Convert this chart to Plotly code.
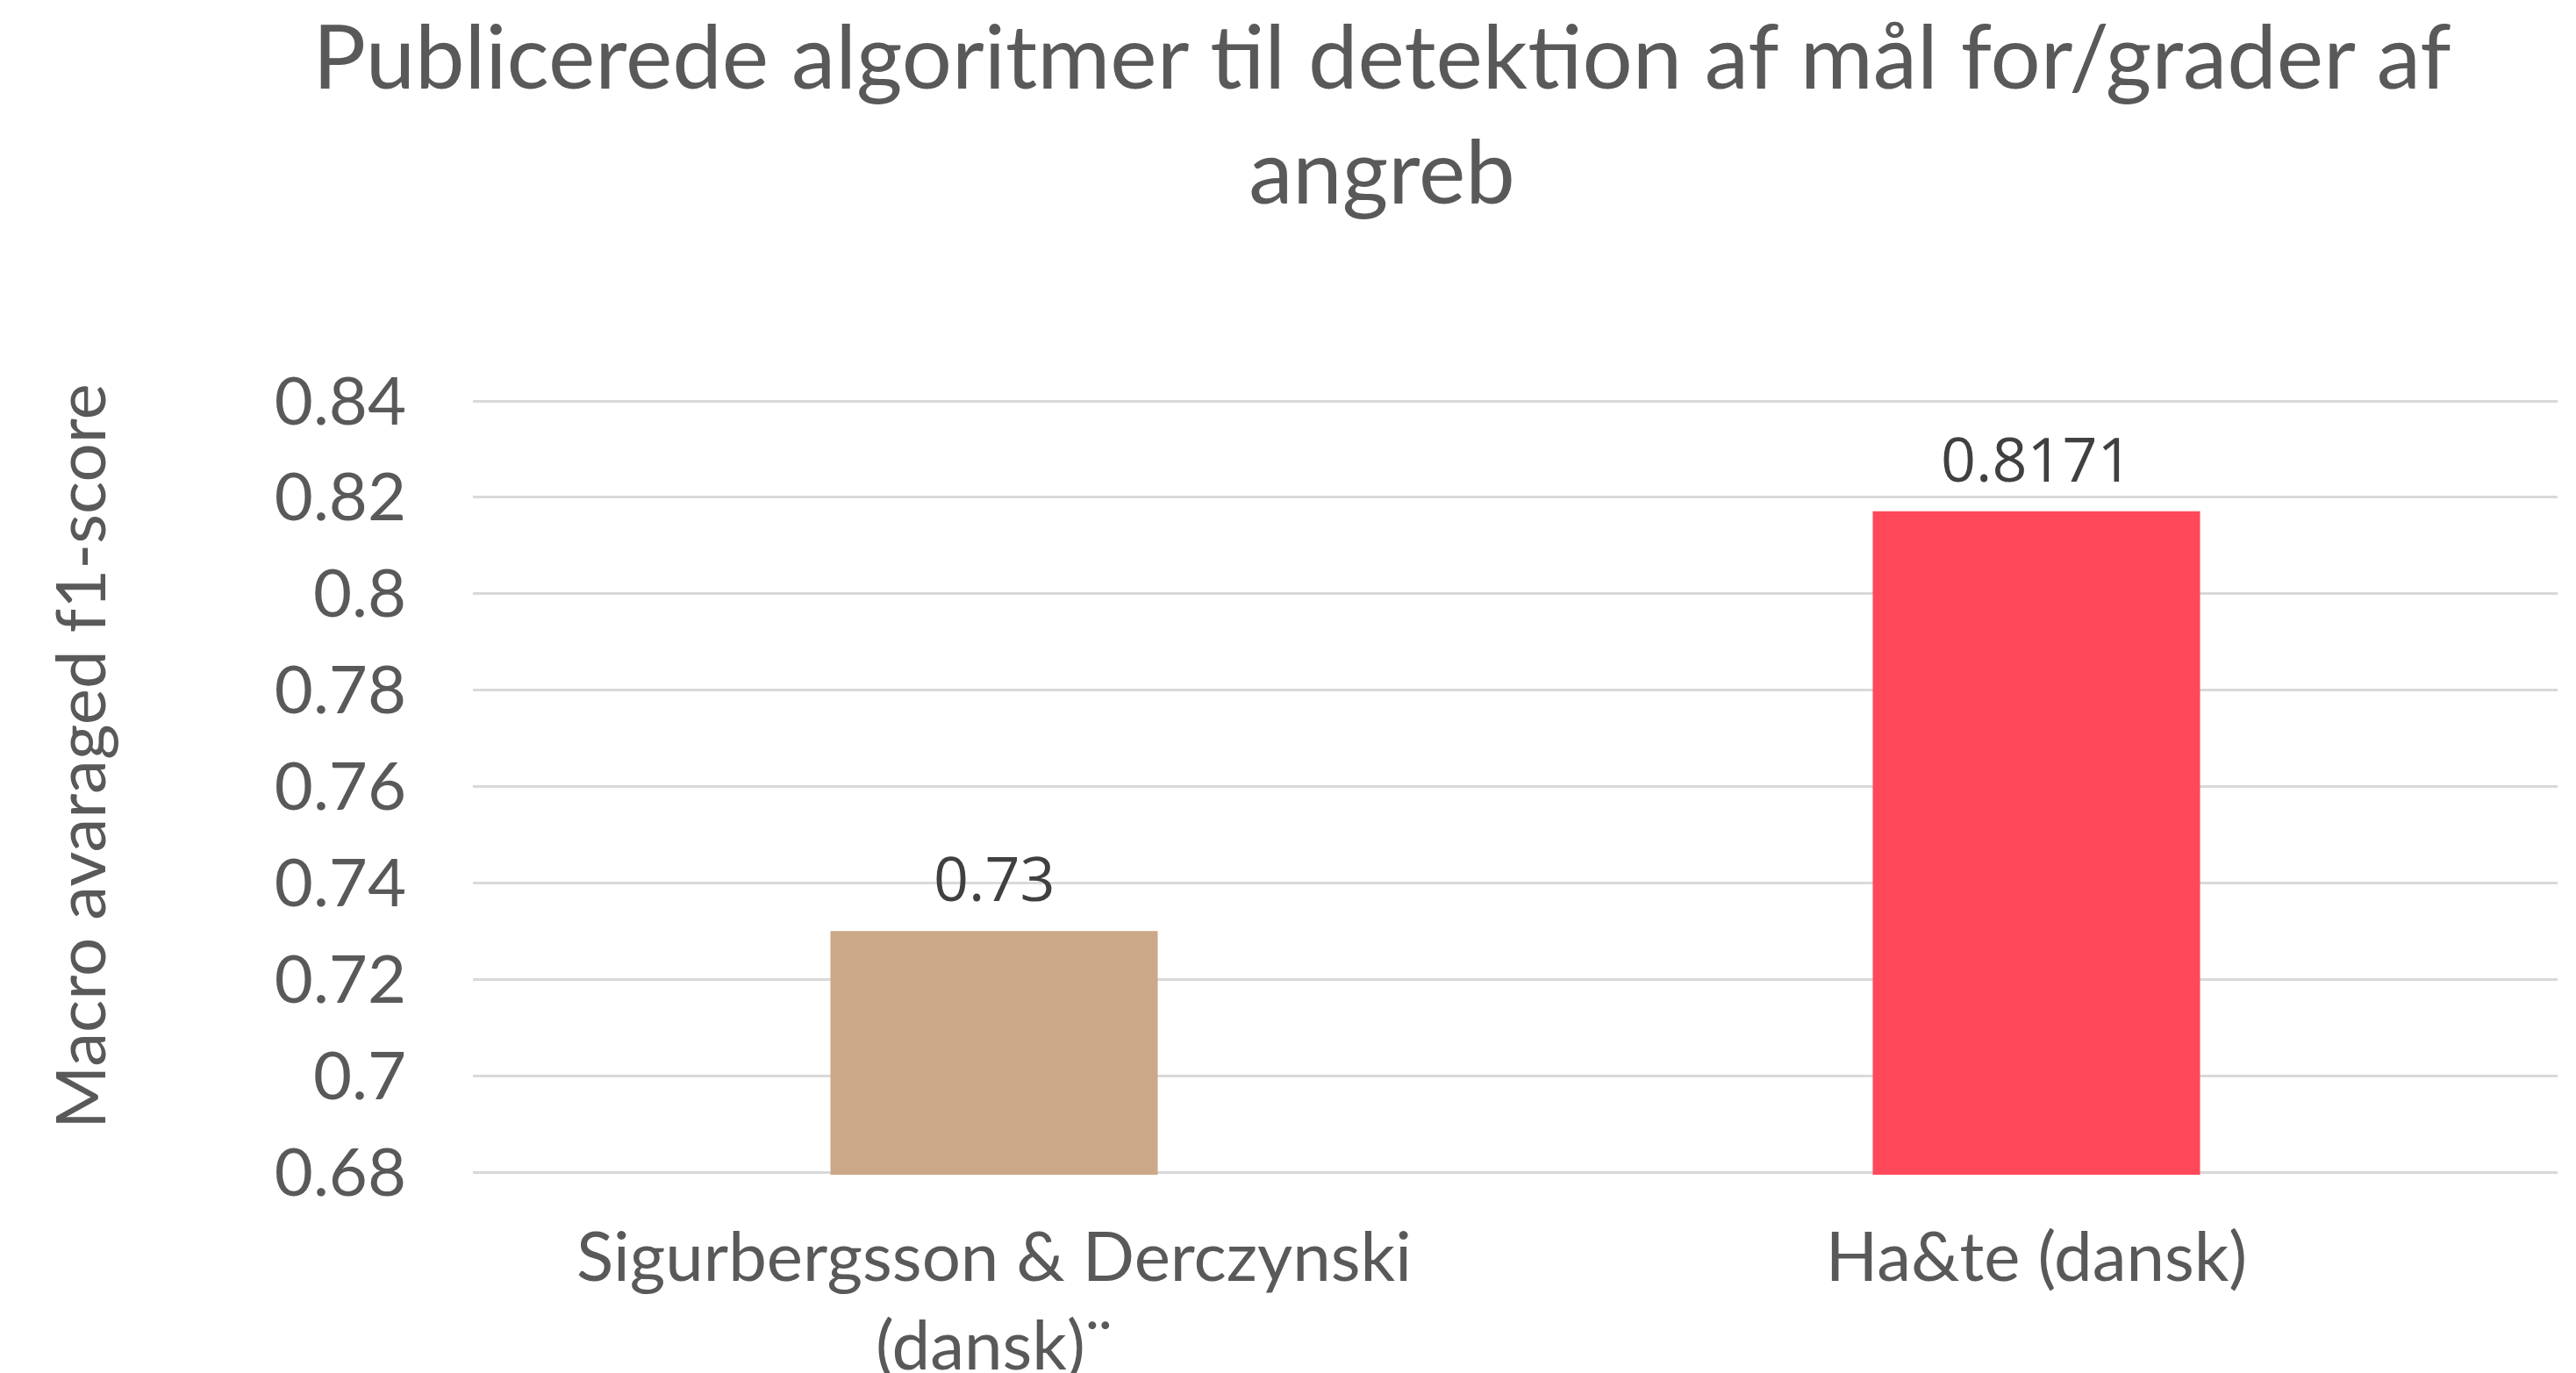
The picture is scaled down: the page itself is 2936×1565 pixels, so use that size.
import plotly.graph_objects as go

categories = ["Sigurbergsson & Derczynski<br>(dansk)¨", "Ha&te (dansk)"]
values = [0.73, 0.8171]
value_labels = ["0.73", "0.8171"]
bar_colors = ["#CBA887", "#FF485A"]
tick_vals = [0.68, 0.70, 0.72, 0.74, 0.76, 0.78, 0.80, 0.82, 0.84]
tick_text = ["0.68", "0.7", "0.72", "0.74", "0.76", "0.78", "0.8", "0.82", "0.84"]
title_text = "Publicerede algoritmer til detektion af mål for/grader af<br>angreb"
y_title = "Macro avaraged f1-score"

# the page body adds an 8px margin, so the figure is laid out 8px smaller
OFF = 8
W, H = 2936 - OFF, 1565 - OFF
PAD = 3  # px padding so edge gridlines are drawn
L = 539 - OFF
R = W - (2915 - OFF)
T = 457 - OFF - PAD
B = H - (1336 - OFF) - PAD
ymin, ymax = 0.68, 0.84
eps = PAD * (ymax - ymin) / 879
FONT = "Lato"
GREY = "#595959"

fig = go.Figure()
fig.add_trace(go.Bar(
    x=categories, y=values,
    marker=dict(color=bar_colors, line=dict(width=0)),
    hoverinfo="skip",
))

for c, v, t in zip(categories, values, value_labels):
    fig.add_annotation(
        x=c, y=v, xref="x", yref="y", text=t, showarrow=False,
        yanchor="bottom", yshift=11,
        font=dict(family="Open Sans", size=70, color="#404040"),
    )

plot_h = H - T - B
fig.add_annotation(
    x=(82 - L) / (W - L - R), xref="paper",
    y=(H - B - (862 - OFF)) / plot_h, yref="paper",
    text=y_title, textangle=-90, showarrow=False,
    xanchor="center", yanchor="middle",
    font=dict(family=FONT, size=78, color=GREY),
)

fig.update_layout(
    width=W, height=H,
    margin=dict(l=L, r=R, t=T, b=B, autoexpand=False),
    paper_bgcolor="white", plot_bgcolor="white",
    bargap=0.686,
    showlegend=False,
    title=dict(
        text=title_text, x=(1575 - OFF) / W, xanchor="center",
        y=1 - (101 - OFF) / H, yanchor="middle", yref="container",
        font=dict(family=FONT, size=101, color=GREY),
    ),
    font=dict(family=FONT, color=GREY),
)
fig.update_yaxes(
    range=[ymin - eps, ymax + eps], tickvals=tick_vals, ticktext=tick_text,
    showgrid=True, gridcolor="#D9D9D9", gridwidth=3,
    zeroline=False, showline=False, ticks="",
    ticklabelstandoff=75,
    tickfont=dict(family=FONT, size=76, color=GREY),
)
fig.update_xaxes(
    showgrid=False, zeroline=False, showline=False, ticks="",
    ticklabelstandoff=42,
    tickfont=dict(family=FONT, size=78, color=GREY),
)

fig.write_html("out.html")
